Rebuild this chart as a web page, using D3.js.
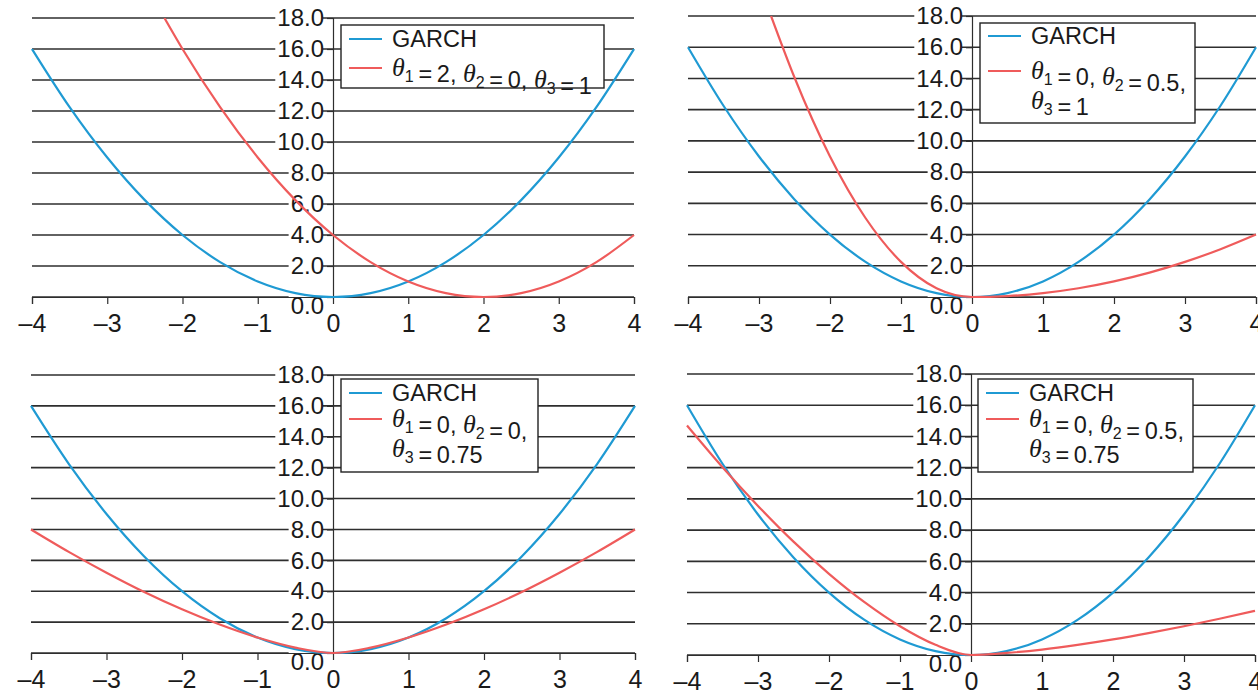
<!DOCTYPE html>
<html>
<head>
<meta charset="utf-8">
<script src="https://cdn.jsdelivr.net/npm/d3@7"></script>
<style>
  body { margin: 0; background: #fff; }
  svg { display: block; }
  text { font-family: "Liberation Sans", Arial, sans-serif; fill: #1a1a1a; }
</style>
</head>
<body>
<svg id="chart" width="1258" height="694"></svg>
<script>
// shock values (z) and conditional variance
const zGrid = [-4, -3.5, -3, -2.5, -2, -1.5, -1, -0.5, 0, 0.5, 1, 1.5, 2, 2.5, 3, 3.5, 4];
const garchVar = [16, 12.25, 9, 6.25, 4, 2.25, 1, 0.25, 0, 0.25, 1, 2.25, 4, 6.25, 9, 12.25, 16];

const shiftZ = [-2.24, -2, -1.5, -1, -0.5, 0, 0.5, 1, 1.5, 2, 2.5, 3, 3.5, 4];
const shiftVar = [18, 16, 12.25, 9, 6.25, 4, 2.25, 1, 0.25, 0, 0.25, 1, 2.25, 4];

const asymZ = [-2.83, -2.5, -2, -1.5, -1, -0.5, 0, 0.5, 1, 1.5, 2, 2.5, 3, 3.5, 4];
const asymVar = [18, 14.06, 9, 5.06, 2.25, 0.56, 0, 0.06, 0.25, 0.56, 1, 1.56, 2.25, 3.06, 4];

const powerVar = [8, 6.55, 5.2, 3.95, 2.83, 1.84, 1, 0.35, 0, 0.35, 1, 1.84, 2.83, 3.95, 5.2, 6.55, 8];
const asymPowerVar = [14.7, 12.03, 9.55, 7.26, 5.2, 3.38, 1.84, 0.65, 0, 0.13, 0.35, 0.65, 1, 1.4, 1.84, 2.32, 2.83];

const xTicks = [-4, -3, -2, -1, 0, 1, 2, 3, 4];
const yTicks = [0, 2, 4, 6, 8, 10, 12, 14, 16, 18];

const garchLabel = "GARCH";
const legendLabels = [
    ["θ_1=2, θ_2=0, θ_3=1"],
    ["θ_1=0, θ_2=0.5,", "θ_3=1"],
    ["θ_1=0, θ_2=0,", "θ_3=0.75"],
    ["θ_1=0, θ_2=0.5,", "θ_3=0.75"]
];

const BLUE = "#1f9ad3";
const RED = "#ef5b5b";
const GRID = "#2e2e2e";

const panels = [
    { x0: 32, x1: 634, yTop: 18, yBot: 297, z: shiftZ, v: shiftVar,
      legend: { x: 341, y: 25, w: 263, h: 63, rows: [14, 43], next: 30 } },
    { x0: 688, x1: 1256, yTop: 16, yBot: 297, z: asymZ, v: asymVar,
      legend: { x: 980, y: 23, w: 215, h: 100, rows: [13, 48], next: 30 } },
    { x0: 31, x1: 635, yTop: 375, yBot: 653, z: zGrid, v: powerVar,
      legend: { x: 341, y: 379, w: 197, h: 93, rows: [14, 40], next: 30 } },
    { x0: 687, x1: 1255, yTop: 374, yBot: 655, z: zGrid, v: asymPowerVar,
      legend: { x: 978, y: 379, w: 215, h: 93, rows: [14, 40], next: 30 } }
];

const svg = d3.select("#chart");
const minus = (s) => s.replace("-", "\u2013");

function writeMath(text, str) {
    str.split(/(θ_\d)/).filter((s) => s.length).forEach((part) => {
        if (part.startsWith("θ_")) {
            text.append("tspan")
                .style("font-family", "'Liberation Serif', serif")
                .style("font-style", "italic")
                .attr("font-size", 26)
                .text("θ");
            text.append("tspan")
                .attr("font-size", 16)
                .attr("dy", 6)
                .text(part.slice(2));
            text.append("tspan").attr("dy", -6).text("");
        } else {
            text.append("tspan").text(part.replace(/=/g, "\u2009=\u2009"));
        }
    });
}

panels.forEach((p, i) => {
    let x = d3.scaleLinear().domain([-4, 4]).range([p.x0, p.x1]),
        y = d3.scaleLinear().domain([0, 18]).range([p.yBot, p.yTop]),
        g = svg.append("g").attr("class", "panel");

    let clipId = "clip" + i;
    svg.append("defs").append("clipPath").attr("id", clipId)
        .append("rect")
        .attr("x", p.x0 - 2).attr("y", y(18))
        .attr("width", p.x1 - p.x0 + 4).attr("height", y(0) - y(18) + 2);

    // horizontal grid
    g.append("g").selectAll("line")
        .data(yTicks)
        .enter().append("line")
            .attr("x1", x(-4)).attr("x2", x(4))
            .attr("y1", (d) => y(d)).attr("y2", (d) => y(d))
            .attr("stroke", GRID)
            .attr("stroke-width", 1.6);

    // y axis at z = 0, labels sit on a white patch that breaks the grid
    let yAxis = d3.axisLeft(y).tickValues(yTicks).tickSize(6).tickPadding(3)
        .tickFormat(d3.format(".1f"));
    let ya = g.append("g").attr("transform", "translate(" + x(0) + ",0)").call(yAxis);
    ya.select(".domain").attr("stroke", GRID).attr("stroke-width", 1.2);
    ya.selectAll(".tick line").attr("stroke", GRID).attr("stroke-width", 1.2);
    ya.selectAll(".tick text")
        .attr("font-size", 24)
        .attr("fill", "#1a1a1a")
        .attr("dy", (d) => d === 0 ? "0.68em" : "0.32em");
    ya.selectAll(".tick").each(function () {
        let tick = d3.select(this),
            b = tick.select("text").node().getBBox();
        tick.insert("rect", "text")
            .attr("x", b.x - 2).attr("y", b.y + 3)
            .attr("width", b.width + 1).attr("height", b.height - 6)
            .attr("fill", "#fff");
    });

    // x axis at variance = 0
    let xAxis = d3.axisBottom(x).tickValues(xTicks).tickSize(7).tickPadding(10)
        .tickFormat((d) => minus(String(d)));
    let xa = g.append("g").attr("transform", "translate(0," + y(0) + ")").call(xAxis);
    xa.select(".domain").attr("stroke", GRID).attr("stroke-width", 1.2);
    xa.selectAll(".tick line").attr("stroke", GRID).attr("stroke-width", 1.2);
    xa.selectAll(".tick text").attr("font-size", 25).attr("fill", "#1a1a1a");

    // curves
    let line = d3.line()
        .x((d) => x(d[0]))
        .y((d) => y(d[1]))
        .curve(d3.curveMonotoneX);

    let curves = g.append("g").attr("clip-path", "url(#" + clipId + ")");
    curves.append("path")
        .datum(d3.zip(zGrid, garchVar))
        .attr("d", line)
        .attr("fill", "none")
        .attr("stroke", BLUE)
        .attr("stroke-width", 2.2);
    curves.append("path")
        .datum(d3.zip(p.z, p.v))
        .attr("d", line)
        .attr("fill", "none")
        .attr("stroke", RED)
        .attr("stroke-width", 2.2);

    // legend
    let L = p.legend,
        lg = g.append("g").attr("transform", "translate(" + L.x + "," + L.y + ")");
    lg.append("rect")
        .attr("width", L.w).attr("height", L.h)
        .attr("fill", "#fff")
        .attr("stroke", "#222")
        .attr("stroke-width", 1.4);
    [BLUE, RED].forEach((c, k) => {
        lg.append("line")
            .attr("x1", 8).attr("x2", 41)
            .attr("y1", L.rows[k]).attr("y2", L.rows[k])
            .attr("stroke", c).attr("stroke-width", 2.2);
    });
    lg.append("text")
        .attr("x", 51).attr("y", L.rows[0] + 8)
        .attr("font-size", 23.5)
        .text(garchLabel);
    legendLabels[i].forEach((str, k) => {
        let t = lg.append("text")
            .attr("x", 51).attr("y", L.rows[1] + 8 + k * L.next)
            .attr("font-size", 23.5);
        writeMath(t, str);
    });
});
</script>
</body>
</html>
